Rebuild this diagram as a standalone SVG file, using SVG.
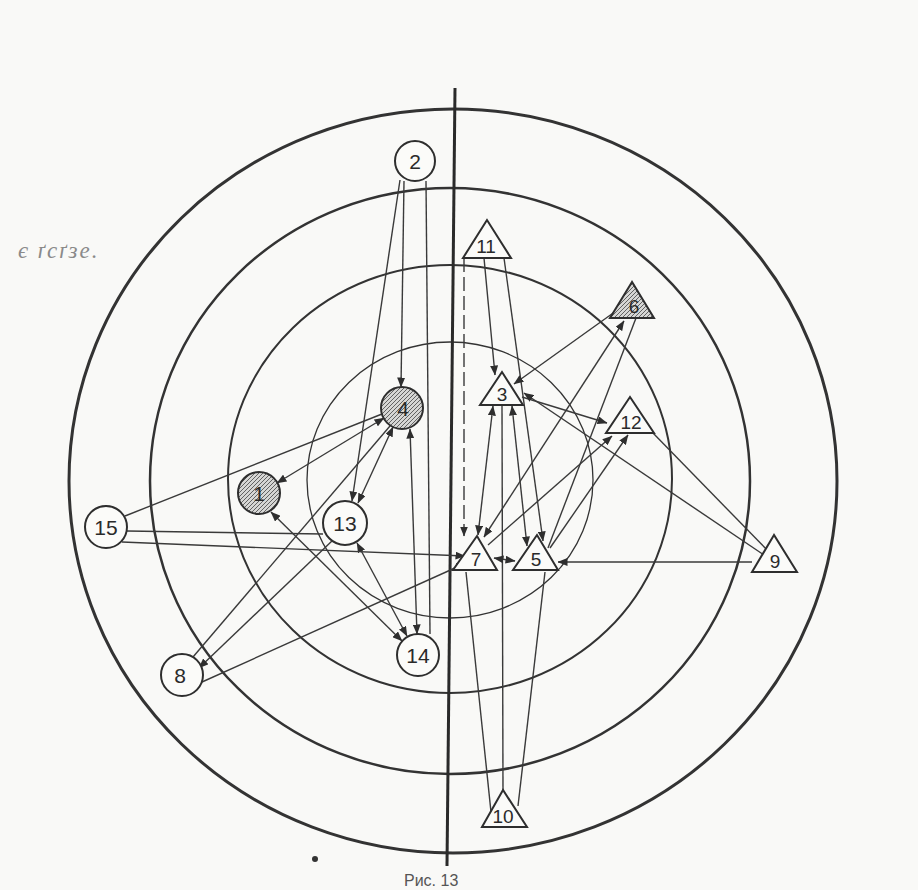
<svg xmlns="http://www.w3.org/2000/svg" width="918" height="890" viewBox="0 0 918 890">
<defs>
<style>
.ring{fill:none;stroke:#333}
.edge{fill:none;stroke:#3a3a3a;stroke-width:1.4}
.node{fill:#fbfbf9;stroke:#2e2e2e;stroke-width:2}
.hat{fill:url(#hatch);stroke:#2e2e2e;stroke-width:2}
.lbl{font-family:"Liberation Sans",Arial,sans-serif;font-size:21px;fill:#2a2a2a;text-anchor:middle}
.tl{font-family:"Liberation Sans",Arial,sans-serif;font-size:19px;fill:#2a2a2a;text-anchor:middle}
</style>
<pattern id="hatch" patternUnits="userSpaceOnUse" width="4" height="4">
<rect width="4" height="4" fill="#d6d6d4"/>
<path d="M-1,1 l2,-2 M0,4 l4,-4 M3,5 l2,-2" stroke="#555" stroke-width="0.9"/>
</pattern>
<marker id="ah" viewBox="0 0 10 8" refX="9.5" refY="4" markerWidth="10" markerHeight="8" markerUnits="userSpaceOnUse" orient="auto-start-reverse">
<path d="M0,0 L10,4 L0,8 Z" fill="#2e2e2e"/>
</marker>
</defs>
<rect width="918" height="890" fill="#f9f9f7"/>

<g id="rings">
<ellipse class="ring" cx="453" cy="481" rx="384" ry="372" stroke-width="3"/>
<ellipse class="ring" cx="450" cy="481" rx="300" ry="293" stroke-width="2.5"/>
<ellipse class="ring" cx="450" cy="479" rx="222" ry="214" stroke-width="2"/>
<ellipse class="ring" cx="450" cy="480" rx="143" ry="138" stroke-width="1.3"/>
</g>
<g id="axis">
<line x1="455" y1="88" x2="447" y2="866" stroke="#2a2a2a" stroke-width="3"/>
</g>

<g id="connectors">
<line class="edge" x1="404" y1="181" x2="401" y2="387" marker-end="url(#ah)"/>
<line class="edge" x1="400" y1="180" x2="352" y2="501" marker-end="url(#ah)"/>
<line class="edge" x1="426" y1="181" x2="430" y2="634"/>
<line class="edge" x1="410" y1="429" x2="417" y2="634" marker-start="url(#ah)" marker-end="url(#ah)"/>
<line class="edge" x1="384" y1="418" x2="277" y2="483" marker-start="url(#ah)" marker-end="url(#ah)"/>
<line class="edge" x1="125" y1="516" x2="382" y2="414"/>
<line class="edge" x1="393" y1="427" x2="358" y2="503" marker-start="url(#ah)" marker-end="url(#ah)"/>
<line class="edge" x1="390" y1="426" x2="193" y2="657"/>
<line class="edge" x1="333" y1="540" x2="199" y2="668" marker-end="url(#ah)" stroke-width="1.8"/>
<line class="edge" x1="357" y1="543" x2="407" y2="636" marker-start="url(#ah)" marker-end="url(#ah)"/>
<line class="edge" x1="271" y1="512" x2="402" y2="641" marker-start="url(#ah)" marker-end="url(#ah)"/>
<line class="edge" x1="127" y1="531" x2="323" y2="534"/>
<line class="edge" x1="122" y1="542" x2="465" y2="556" marker-end="url(#ah)"/>
<line class="edge" x1="202" y1="682" x2="466" y2="563" marker-end="url(#ah)"/>
<line class="edge" x1="464" y1="258" x2="464" y2="536" stroke-dasharray="14 5" marker-end="url(#ah)"/>
<line class="edge" x1="484" y1="258" x2="495" y2="375" marker-end="url(#ah)"/>
<line class="edge" x1="504" y1="258" x2="543" y2="541" marker-end="url(#ah)"/>
<line class="edge" x1="493" y1="406" x2="478" y2="535" marker-start="url(#ah)" marker-end="url(#ah)"/>
<line class="edge" x1="502" y1="406" x2="503" y2="790"/>
<line class="edge" x1="512" y1="406" x2="527" y2="546" marker-start="url(#ah)" marker-end="url(#ah)"/>
<line class="edge" x1="514" y1="384" x2="616" y2="311" marker-start="url(#ah)"/>
<line class="edge" x1="522" y1="397" x2="607" y2="423" marker-end="url(#ah)"/>
<line class="edge" x1="764" y1="555" x2="524" y2="393" marker-end="url(#ah)"/>
<line class="edge" x1="652" y1="432" x2="770" y2="553"/>
<line class="edge" x1="752" y1="562" x2="558" y2="562" marker-end="url(#ah)"/>
<line class="edge" x1="494" y1="558" x2="515" y2="561" marker-start="url(#ah)" marker-end="url(#ah)"/>
<line class="edge" x1="484" y1="537" x2="624" y2="321" stroke-width="2.6" marker-start="url(#ah)" marker-end="url(#ah)"/>
<line class="edge" x1="488" y1="545" x2="612" y2="436" marker-end="url(#ah)"/>
<line class="edge" x1="550" y1="548" x2="628" y2="435" marker-end="url(#ah)"/>
<line class="edge" x1="636" y1="318" x2="548" y2="548"/>
<line class="edge" x1="545" y1="572" x2="518" y2="806"/>
<line class="edge" x1="466" y1="572" x2="491" y2="812"/>
</g>

<g id="n2"><circle class="node" cx="415" cy="161" r="20"/><text class="lbl" x="415" y="169">2</text></g>
<g id="n4"><circle class="hat" cx="402" cy="408" r="21"/><text class="lbl" x="403" y="416">4</text></g>
<g id="n1"><circle class="hat" cx="259" cy="493" r="21"/><text class="lbl" x="259" y="501">1</text></g>
<g id="n13"><circle class="node" cx="345" cy="523" r="22"/><text class="lbl" x="345" y="531">13</text></g>
<g id="n15"><circle class="node" cx="106" cy="527" r="21"/><text class="lbl" x="106" y="535">15</text></g>
<g id="n8"><circle class="node" cx="182" cy="675" r="21"/><text class="lbl" x="180" y="683">8</text></g>
<g id="n14"><circle class="node" cx="418" cy="655" r="21"/><text class="lbl" x="418" y="663">14</text></g>

<g id="n11"><polygon class="node" points="487,220 463,258 511,258"/><text class="tl" x="486" y="253">11</text></g>
<g id="n6"><polygon class="hat" points="632,282 610,318 654,318"/><text class="tl" x="634" y="313">6</text></g>
<g id="n3"><polygon class="node" points="502,372 480,405 523,405"/><text class="tl" x="502" y="401">3</text></g>
<g id="n12"><polygon class="node" points="630,397 606,433 654,433"/><text class="tl" x="631" y="429">12</text></g>
<g id="n7"><polygon class="node" points="477,536 453,570 497,570"/><text class="tl" x="476" y="566">7</text></g>
<g id="n5"><polygon class="node" points="537,535 513,570 558,570"/><text class="tl" x="536" y="566">5</text></g>
<g id="n9"><polygon class="node" points="774,535 752,572 797,572"/><text class="tl" x="775" y="568">9</text></g>
<g id="n10"><polygon class="node" points="503,790 482,827 527,827"/><text class="tl" x="503" y="823">10</text></g>

<text x="18" y="258" font-family="Liberation Serif, serif" font-style="italic" font-size="23" letter-spacing="2" fill="#8a8a8a">є ґсґзе.</text>
<circle cx="315" cy="859" r="3" fill="#333"/>
<text x="404" y="886" font-family="Liberation Sans, Arial, sans-serif" font-size="16" fill="#555">Рис. 13</text>
</svg>
